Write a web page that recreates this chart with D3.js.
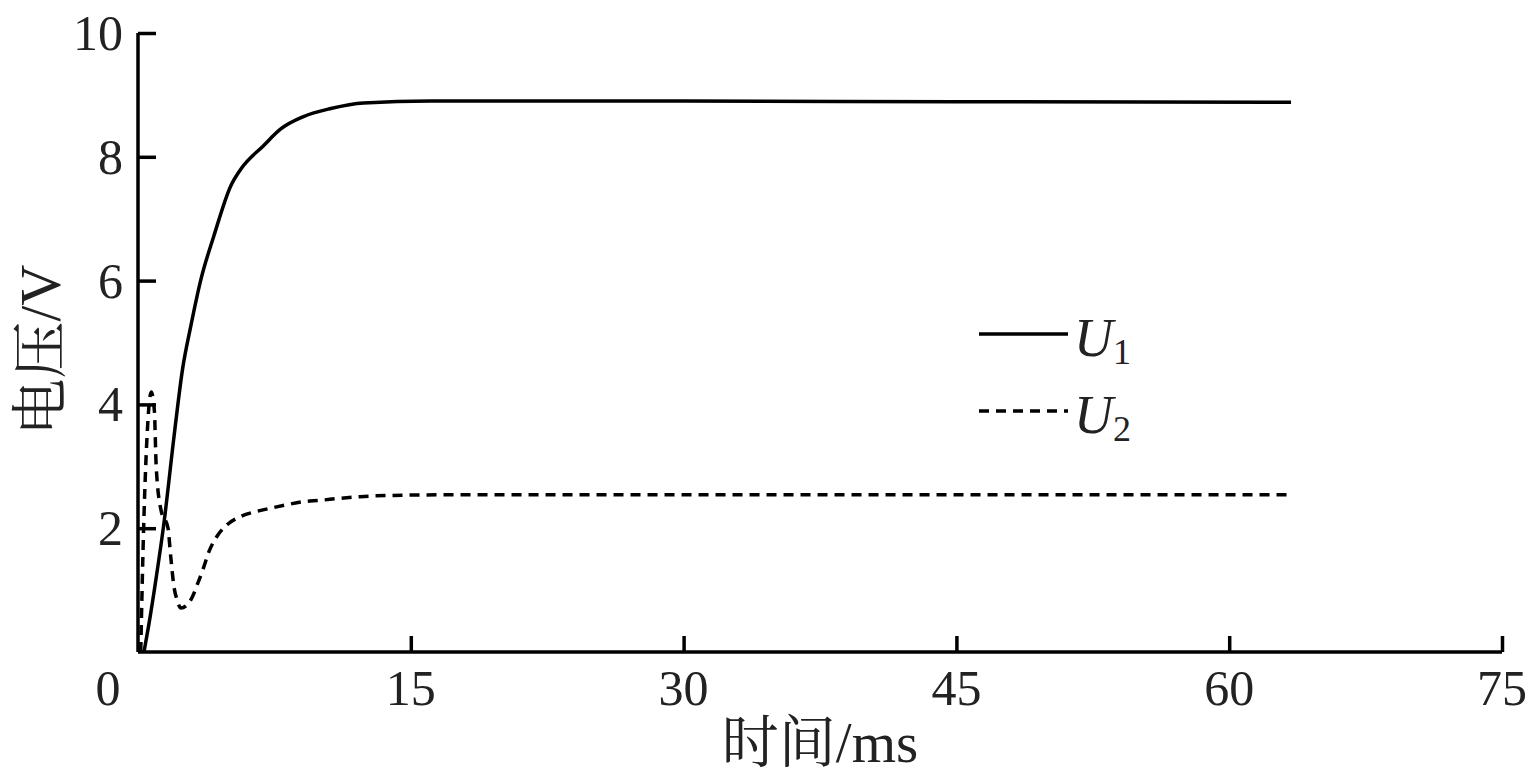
<!DOCTYPE html>
<html><head><meta charset="utf-8">
<script src="https://cdn.jsdelivr.net/npm/d3@7"></script>
<style>body{margin:0;background:#fff}svg{display:block}</style>
</head><body>
<script>
// Data (time in ms, voltage in V)
const u1Time = [0.33, 0.6, 1.0, 1.43, 1.98, 2.45, 2.9, 3.46, 4.17, 5.1, 5.65, 6.9, 7.85, 9.1, 10.6, 12.4, 16.1, 30, 45, 63.4];
const u1Volt = [0, 0.45, 1.2, 2.09, 3.48, 4.57, 5.26, 6.02, 6.72, 7.53, 7.8, 8.18, 8.45, 8.65, 8.78, 8.87, 8.9, 8.9, 8.89, 8.88];
const u2Time = [0.15, 0.3, 0.5, 0.73, 0.9, 1.0, 1.26, 1.65, 1.8, 1.98, 2.15, 2.36, 2.9, 3.3, 3.6, 3.9, 4.3, 4.8, 5.65, 6.5, 7.4, 8.2, 9.1, 10, 11, 12.2, 14, 17.7, 30, 45, 63.4];
const u2Volt = [0, 1.9, 3.5, 4.2, 3.9, 3.0, 2.3, 2.0, 1.54, 1.05, 0.84, 0.71, 0.84, 1.12, 1.36, 1.62, 1.85, 2.03, 2.19, 2.27, 2.33, 2.38, 2.43, 2.45, 2.48, 2.51, 2.53, 2.54, 2.54, 2.54, 2.54];
const xTicks = [15, 30, 45, 60, 75];
const yTicks = [2, 4, 6, 8, 10];
const seriesNames = ["1", "2"];

const W = 1532, H = 780;
const svg = d3.select("body").append("svg").attr("width", W).attr("height", H);
const x = d3.scaleLinear().domain([0, 75]).range([138, 1502]);
const y = d3.scaleLinear().domain([0, 10]).range([652, 33]);
const font = "Liberation Serif, Times New Roman, DejaVu Serif, serif";
const cjk = "Noto Serif CJK SC, Noto Sans CJK SC, sans-serif";
const fs = 50;

// axes
const gx = svg.append("g").attr("transform", `translate(0,${y(0)})`)
  .call(d3.axisTop(x).tickValues(xTicks).tickSize(16).tickFormat(""));
const gy = svg.append("g").attr("transform", `translate(${x(0)},0)`)
  .call(d3.axisRight(y).tickValues(yTicks).tickSize(18).tickFormat(""));
[gx, gy].forEach(g => {
  g.select(".domain").attr("stroke", "#000").attr("stroke-width", 3.5);
  g.selectAll(".tick line").attr("stroke", "#000").attr("stroke-width", 3.5);
});
gx.select(".domain").attr("d", `M${x(0)},0H${x(75)}`);
gy.select(".domain").attr("d", `M0,${y(0)}V${y(10)}`);

// tick labels
svg.append("g").selectAll("text").data(xTicks).join("text")
  .attr("x", d => x(d)).attr("y", 705).attr("text-anchor", "middle")
  .style("font-family", font).attr("font-size", fs).attr("fill", "#222").text(d => d);
svg.append("text").attr("x", 108).attr("y", 705).attr("text-anchor", "middle")
  .style("font-family", font).attr("font-size", fs).attr("fill", "#222").text("0");
svg.append("g").selectAll("text").data(yTicks).join("text")
  .attr("x", 123).attr("y", d => y(d) + 17).attr("text-anchor", "end")
  .style("font-family", font).attr("font-size", fs).attr("fill", "#222").text(d => d);

// axis titles
const xt = svg.append("text").attr("x", 820).attr("y", 762).attr("text-anchor", "middle")
  .attr("font-size", 57).attr("fill", "#222");
xt.append("tspan").style("font-family", cjk).text("时间");
xt.append("tspan").style("font-family", font).text("/ms");
const yt = svg.append("text").attr("transform", "translate(60,350) rotate(-90)").attr("text-anchor", "middle")
  .attr("font-size", 57).attr("fill", "#222");
yt.append("tspan").style("font-family", cjk).text("电压");
yt.append("tspan").style("font-family", font).text("/V");

// lines
const line = d3.line().x(d => x(d[0])).y(d => y(d[1])).curve(d3.curveMonotoneX);
svg.append("path").datum(d3.zip(u1Time, u1Volt)).attr("d", line)
  .attr("fill", "none").attr("stroke", "#000").attr("stroke-width", 3.5);
svg.append("path").datum(d3.zip(u2Time, u2Volt)).attr("d", line)
  .attr("fill", "none").attr("stroke", "#000").attr("stroke-width", 3.5).attr("stroke-dasharray", "10,7");

// legend
const leg = svg.append("g");
[{yy: 334, dash: null}, {yy: 411, dash: "10,7"}].forEach((s, i) => {
  leg.append("line").attr("x1", 979).attr("x2", 1068).attr("y1", s.yy).attr("y2", s.yy)
    .attr("stroke", "#000").attr("stroke-width", 3.5).attr("stroke-dasharray", s.dash);
  const t = leg.append("text").attr("x", 1074).attr("y", s.yy + 22)
    .style("font-family", font).attr("font-size", 54).attr("fill", "#222");
  t.append("tspan").attr("font-style", "italic").text("U");
  t.append("tspan").attr("font-size", 36).attr("dy", 8).text(seriesNames[i]);
});
</script>
</body></html>
